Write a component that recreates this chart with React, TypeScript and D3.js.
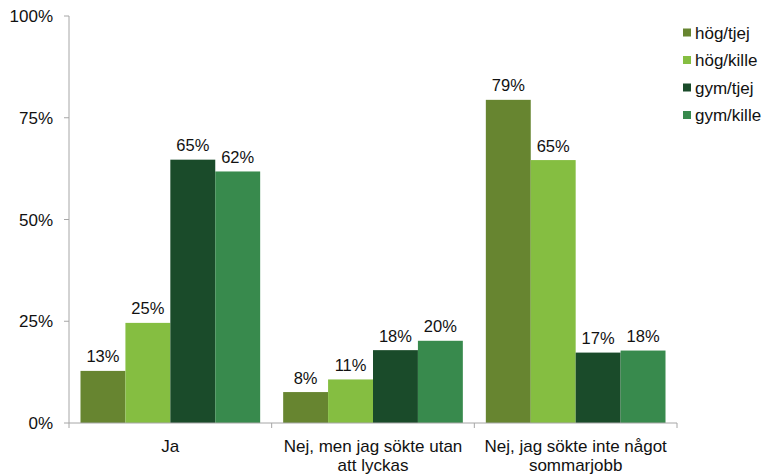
import React from "react";
import * as d3 from "d3";

const categories: string[][] = [
  ["Ja"],
  ["Nej, men jag sökte utan", "att lyckas"],
  ["Nej, jag sökte inte något", "sommarjobb"],
];
const seriesNames = ["hög/tjej", "hög/kille", "gym/tjej", "gym/kille"];
const seriesColors = ["#678530", "#85BE41", "#1A4B2A", "#388A4D"];
const hogTjej = [12.8, 7.6, 79.4];
const hogKille = [24.6, 10.7, 64.6];
const gymTjej = [64.7, 17.9, 17.3];
const gymKille = [61.8, 20.2, 17.8];
const yTicks = [0, 25, 50, 75, 100];

const W = 765;
const H = 474;
const left = 69;
const right = 677;
const top = 16;
const bottom = 423;
const FONT = "'Liberation Sans', Arial, sans-serif";

export default function App() {
  const series = [hogTjej, hogKille, gymTjej, gymKille];
  const x0 = d3
    .scaleBand<number>()
    .domain(categories.map((_, i) => i))
    .range([left, right])
    .paddingInner(0)
    .paddingOuter(0);
  const x1 = d3
    .scaleBand<number>()
    .domain(seriesNames.map((_, i) => i))
    .range([11.5, x0.bandwidth() - 11.5])
    .padding(0);
  const y = d3.scaleLinear().domain([0, 100]).range([bottom, top]);

  const catTicks = [...categories.map((_, i) => x0(i)!), right];

  return (
    <svg
      width={W}
      height={H}
      style={{ position: "absolute", left: 0, top: 0 }}
      fontFamily={FONT}
    >
      {categories.map((_, ci) => (
        <g key={ci} transform={`translate(${x0(ci)},0)`}>
          {series.map((s, si) => (
            <g key={si}>
              <rect
                x={x1(si)}
                y={y(s[ci])}
                width={x1.bandwidth()}
                height={y(0) - y(s[ci])}
                fill={seriesColors[si]}
              />
              <text
                x={x1(si)! + x1.bandwidth() / 2}
                y={y(s[ci]) - 8.5}
                textAnchor="middle"
                fontSize={16.5}
                fill="#111"
              >
                {Math.round(s[ci])}%
              </text>
            </g>
          ))}
        </g>
      ))}

      <line x1={left} x2={left} y1={top} y2={bottom} stroke="#A6A6A6" strokeWidth={1} />
      {yTicks.map((t) => (
        <g key={t}>
          <line x1={left - 5} x2={left} y1={y(t)} y2={y(t)} stroke="#A6A6A6" />
          <text x={53} y={y(t) + 6} textAnchor="end" fontSize={17} fill="#111">
            {t}%
          </text>
        </g>
      ))}

      <line x1={left} x2={right} y1={bottom} y2={bottom} stroke="#A6A6A6" />
      {catTicks.map((t, i) => (
        <line key={i} x1={t} x2={t} y1={bottom} y2={bottom + 5} stroke="#A6A6A6" />
      ))}
      {categories.map((lines, ci) =>
        lines.map((l, li) => (
          <text
            key={`${ci}-${li}`}
            x={x0(ci)! + x0.bandwidth() / 2}
            y={452 + li * 19}
            textAnchor="middle"
            fontSize={17}
            fill="#111"
          >
            {l}
          </text>
        ))
      )}

      {seriesNames.map((n, i) => (
        <g key={n} transform={`translate(683,${32.5 + i * 27.5})`}>
          <rect x={0} y={-4} width={8} height={8} fill={seriesColors[i]} />
          <text x={12} y={6} fontSize={17} fill="#111">
            {n}
          </text>
        </g>
      ))}
    </svg>
  );
}
